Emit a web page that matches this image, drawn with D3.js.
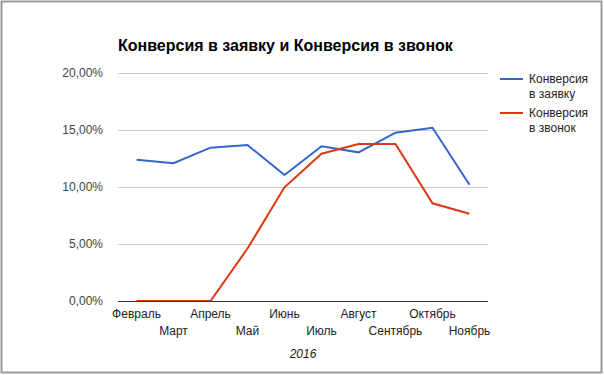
<!DOCTYPE html>
<html>
<head>
<meta charset="utf-8">
<script src="https://cdn.jsdelivr.net/npm/d3@7"></script>
<style>
  body { margin: 0; background: #fff; }
  svg { font-family: Arial, "Liberation Sans", sans-serif; }
</style>
</head>
<body>
<svg id="chart" width="604" height="375"></svg>
<script>
var months = ["Февраль", "Март", "Апрель", "Май", "Июнь", "Июль", "Август", "Сентябрь", "Октябрь", "Ноябрь"];
var convRequest = [12.39, 12.08, 13.45, 13.68, 11.05, 13.57, 13.04, 14.76, 15.2, 10.2];
var convCall = [0, 0, 0, 4.6, 9.97, 12.92, 13.77, 13.77, 8.57, 7.66];
var yTicks = [0, 5, 10, 15, 20];
var seriesNames = [["Конверсия", "в заявку"], ["Конверсия", "в звонок"]];
var colors = ["#3366cc", "#dc3912"];

var svg = d3.select("#chart"),
    margin = {top: 73, right: 116, bottom: 74, left: 118},
    width = svg.attr("width") - margin.left - margin.right,
    height = svg.attr("height") - margin.top - margin.bottom;

// outer border
svg.append("rect")
    .attr("x", 1.5).attr("y", 1.5)
    .attr("width", 600).attr("height", 371)
    .attr("fill", "#fff")
    .attr("stroke", "#9a9a9a")
    .attr("stroke-width", 2);

var g = svg.append("g").attr("transform", "translate(" + margin.left + "," + margin.top + ")");

var x = d3.scalePoint().domain(months).range([0, width]).padding(0.5),
    y = d3.scaleLinear().domain([0, 20]).range([height, 0]);

// gridlines
g.selectAll(".grid")
    .data(yTicks.filter(function(d) { return d > 0; }))
  .enter().append("line")
    .attr("class", "grid")
    .attr("x1", 0).attr("x2", width)
    .attr("y1", function(d) { return y(d) + 0.5; })
    .attr("y2", function(d) { return y(d) + 0.5; })
    .attr("stroke", "#cccccc");

// y labels
g.selectAll(".ylabel")
    .data(yTicks)
  .enter().append("text")
    .attr("class", "ylabel")
    .attr("x", -15)
    .attr("y", function(d) { return y(d) + 4; })
    .attr("text-anchor", "end")
    .attr("font-size", 12)
    .attr("fill", "#444")
    .text(function(d) { return d3.format(".2f")(d).replace(".", ",") + "%"; });

// lines
var line = d3.line()
    .x(function(d, i) { return x(months[i]); })
    .y(function(d) { return y(d); });

[convRequest, convCall].forEach(function(vals, i) {
  g.append("path")
      .datum(vals)
      .attr("fill", "none")
      .attr("stroke", colors[i])
      .attr("stroke-width", 2)
      .attr("d", line);
});

// baseline
g.append("line")
    .attr("x1", 0).attr("x2", width)
    .attr("y1", height + 0.5).attr("y2", height + 0.5)
    .attr("stroke", "#333");

// x labels, two rows
g.selectAll(".xlabel")
    .data(months)
  .enter().append("text")
    .attr("class", "xlabel")
    .attr("x", function(d) { return x(d); })
    .attr("y", function(d, i) { return height + (i % 2 ? 34 : 17); })
    .attr("text-anchor", "middle")
    .attr("font-size", 12)
    .attr("fill", "#222")
    .text(function(d) { return d; });

g.append("text")
    .attr("x", width / 2)
    .attr("y", height + 57)
    .attr("text-anchor", "middle")
    .attr("font-size", 12)
    .attr("font-style", "italic")
    .attr("fill", "#222")
    .text("2016");

// title
svg.append("text")
    .attr("x", margin.left)
    .attr("y", 51)
    .attr("font-size", 16)
    .attr("font-weight", "bold")
    .attr("fill", "#000")
    .text("Конверсия в заявку и Конверсия в звонок");

// legend
var legend = svg.selectAll(".legend")
    .data(seriesNames)
  .enter().append("g")
    .attr("class", "legend")
    .attr("transform", function(d, i) { return "translate(500," + (79 + i * 34) + ")"; });

legend.append("line")
    .attr("x1", 0).attr("x2", 23)
    .attr("stroke", function(d, i) { return colors[i]; })
    .attr("stroke-width", 2);

legend.append("text")
    .attr("x", 29)
    .attr("y", 4)
    .attr("font-size", 12)
    .attr("fill", "#222")
    .selectAll("tspan")
    .data(function(d) { return d; })
  .enter().append("tspan")
    .attr("x", 29)
    .attr("dy", function(d, i) { return i ? 15 : 0; })
    .text(function(d) { return d; });
</script>
</body>
</html>
